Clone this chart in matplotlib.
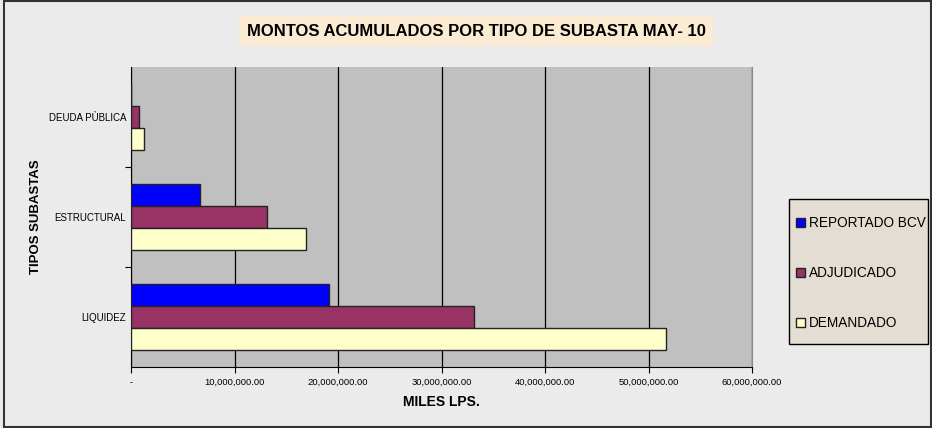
import matplotlib.pyplot as plt
from matplotlib.patches import Patch, Rectangle
import numpy as np

categories = ['LIQUIDEZ', 'ESTRUCTURAL', 'DEUDA PÙBLICA']
reportado = [19100000, 6700000, 0]
adjudicado = [33100000, 13100000, 750000]
demandado = [51700000, 16900000, 1300000]
series_names = ['REPORTADO BCV', 'ADJUDICADO', 'DEMANDADO']
colors = ['#0000ff', '#993366', '#ffffcc']
xticks = [0, 10000000, 20000000, 30000000, 40000000, 50000000, 60000000]
xtick_labels = ['-', '10,000,000.00', '20,000,000.00', '30,000,000.00',
                '40,000,000.00', '50,000,000.00', '60,000,000.00']

plt.rcParams['font.family'] = ['Liberation Sans', 'DejaVu Sans']

fig = plt.figure(figsize=(9.32, 4.28), dpi=100, facecolor='#ebebeb')
# outer chart frame
fig.patches.append(Rectangle((0.004, 0.003), 0.995, 0.994, transform=fig.transFigure,
                             fill=False, edgecolor='#333333', linewidth=1.5))

ax = fig.add_axes([131 / 932, 1 - 367 / 428, 621 / 932, 300 / 428])
ax.set_facecolor('#c0c0c0')

pos = np.arange(len(categories))
h = 0.22
for vals, off, c, name in zip([reportado, adjudicado, demandado], [h, 0, -h], colors, series_names):
    ax.barh(pos + off, vals, height=h, color=c, edgecolor='#222222', linewidth=1.0,
            label=name, zorder=3)

ax.set_xlim(0, 60000000)
ax.set_ylim(-0.5, 2.5)
ax.set_xticks(xticks)
ax.set_xticklabels(xtick_labels, fontsize=6.8)
ax.grid(axis='x', color='black', linewidth=0.9, zorder=1)
ax.tick_params(axis='x', direction='out', length=4, pad=4, color='black')

ax.set_yticks([0.5, 1.5])
ax.set_yticklabels([])
ax.set_yticks(pos, minor=True)
ax.set_yticklabels(categories, minor=True, fontsize=7)
ax.tick_params(axis='y', which='minor', length=0, pad=3.5)
ax.tick_params(axis='y', which='major', direction='out', length=4)

ax.spines['top'].set_visible(False)
ax.spines['right'].set_color('#888888')
ax.spines['left'].set_color('black')
ax.spines['bottom'].set_color('black')

ax.set_xlabel('MILES LPS.', fontsize=10, fontweight='bold', labelpad=6)
ax.set_ylabel('TIPOS SUBASTAS', fontsize=9.5, fontweight='bold')
ax.yaxis.set_label_coords(-0.143, 0.5)

fig.text(476 / 932, 1 - 31 / 428, 'MONTOS ACUMULADOS POR TIPO DE SUBASTA MAY- 10',
         ha='center', va='center', fontsize=12, fontweight='bold',
         bbox=dict(boxstyle='square,pad=0.45', facecolor='#fcebd3', edgecolor='none'))

# legend box drawn separately so the inner spacing matches
fig.patches.append(Rectangle((789 / 932, 1 - 344 / 428), 139 / 932, 145 / 428,
                             transform=fig.transFigure, facecolor='#e4ddd3',
                             edgecolor='black', linewidth=1.0, zorder=0))
handles = [Patch(facecolor=c, edgecolor='#222222', linewidth=1.0) for c in colors]
leg = fig.legend(handles, series_names, loc='upper left',
                 bbox_to_anchor=(796 / 932, 1 - 216 / 428),
                 fontsize=9.8, frameon=False, borderpad=0,
                 labelspacing=2.65, handlelength=0.65, handleheight=0.65,
                 handletextpad=0.3, borderaxespad=0)

fig.savefig('out.png', dpi=100, facecolor=fig.get_facecolor())
